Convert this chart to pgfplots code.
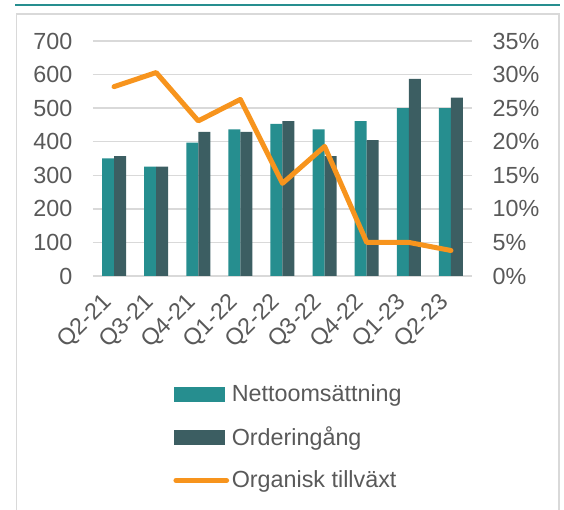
\documentclass[border=0pt]{standalone}
\usepackage{fontspec}
\setmainfont{Liberation Sans}
\usepackage{pgfplots}
\pgfplotsset{compat=1.18}
\definecolor{netto}{HTML}{268E8F}
\definecolor{order}{HTML}{3C5E62}
\definecolor{growth}{HTML}{F7941D}
\definecolor{gridc}{HTML}{D9D9D9}
\definecolor{txt}{HTML}{595959}
\newcommand{\lbl}{\fontsize{17.5}{21}\selectfont}
% 1 px of the reference = 0.75pt
\pgfplotsset{
  common/.style={
    at={(69.75pt,175.5pt)}, anchor=south west,
    scale only axis, width=284.25pt, height=176.25pt,
    xmin=-0.5, xmax=8.5,
    axis line style={draw=none},
    tick style={draw=none},
    ticklabel style={font=\lbl, text=txt},
    /pgf/number format/assume math mode=true,
  },
}
\begin{document}
\begin{tikzpicture}
\useasboundingbox (0pt,0pt) rectangle (423pt,382.5pt);
\draw[gridc, line width=1.1pt] (12.4pt,-5pt) -- (12.4pt,372pt) -- (419.3pt,372pt) -- (419.3pt,-5pt);
\draw[netto, line width=1.6pt] (11.25pt,379pt) -- (420pt,379pt);

\begin{axis}[common,
  ymin=0, ymax=700, ytick={0,100,...,700},
  ymajorgrids, grid style={gridc, line width=1.1pt},
  ybar=0pt, bar width=9pt,
  xtick={0,...,8},
  xticklabels={Q2-21,Q3-21,Q4-21,Q1-22,Q2-22,Q3-22,Q4-22,Q1-23,Q2-23},
  xticklabel style={rotate=45, anchor=east, xshift=-8.7pt, yshift=-6pt},
  yticklabel style={anchor=east, xshift=-12pt},
]
\addplot[fill=netto, draw=none] coordinates
  {(0,350) (1,326) (2,397) (3,437) (4,453) (5,437) (6,461) (7,500) (8,500)};
\addplot[fill=order, draw=none] coordinates
  {(0,357) (1,326) (2,429) (3,429) (4,461) (5,357) (6,405) (7,587) (8,531)};
\end{axis}

\begin{axis}[common,
  ymin=0, ymax=35, ytick={0,5,...,35},
  xtick=\empty,
  yticklabel pos=right,
  yticklabel={\pgfmathprintnumber{\tick}\%},
  yticklabel style={anchor=west, xshift=12pt},
  legend style={at={(0.201,-0.4385)}, anchor=north west, draw=none, fill=none,
    font=\lbl, text=txt, row sep=13.5pt, cells={anchor=west}},
]
\addlegendimage{legend image code/.code={\fill[netto] (0pt,-5.25pt) rectangle (38pt,5.25pt);}}
\addlegendentry{Nettoomsättning}
\addlegendimage{legend image code/.code={\fill[order] (0pt,-5.25pt) rectangle (38pt,5.25pt);}}
\addlegendentry{Orderingång}
\addplot[growth, line width=3.75pt, line join=round, line cap=round,
  legend image code/.code={\draw[growth, line width=3.75pt, line cap=round] (1.5pt,0pt) -- (39.5pt,0pt);}]
  coordinates {(0,28.2) (1,30.3) (2,23.1) (3,26.3) (4,13.8) (5,19.3) (6,5.0) (7,5.0) (8,3.8)};
\addlegendentry{Organisk tillväxt}
\end{axis}
\end{tikzpicture}
\end{document}
